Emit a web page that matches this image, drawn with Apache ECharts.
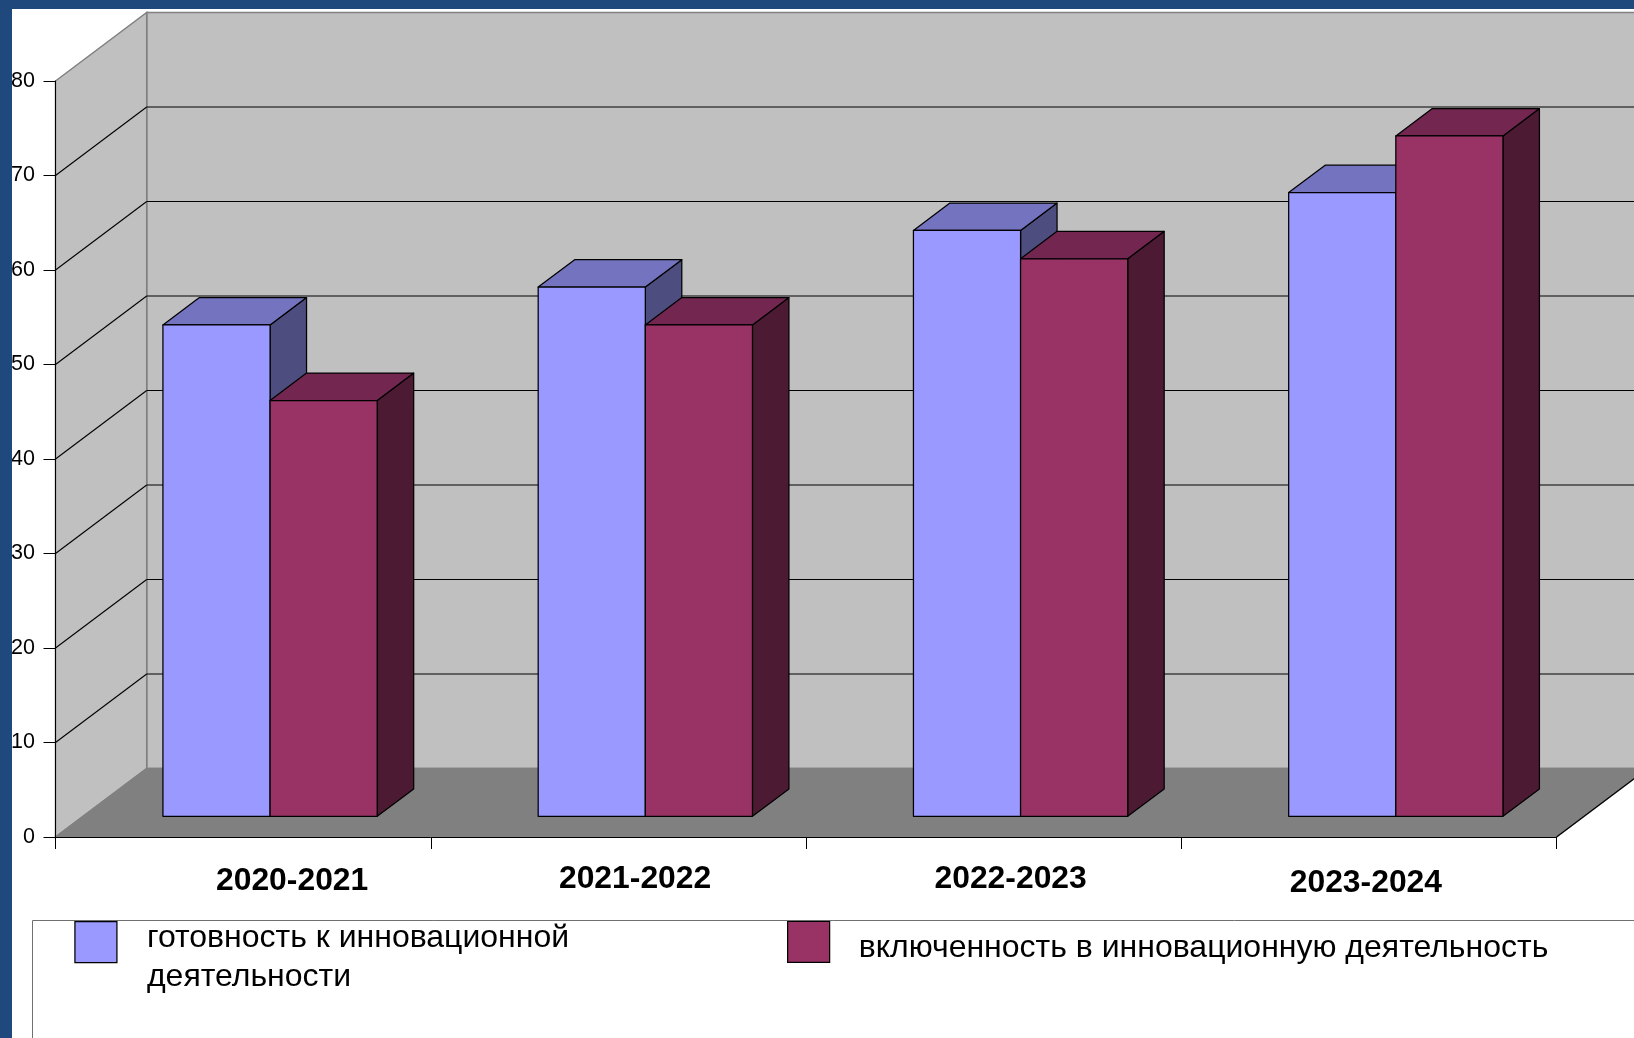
<!DOCTYPE html>
<html>
<head>
<meta charset="utf-8">
<style>html,body{margin:0;padding:0;background:#fff;overflow:hidden}#c{width:1634px;height:1038px}</style>
<script src="https://cdn.jsdelivr.net/npm/echarts@6/dist/echarts.min.js"></script>
</head>
<body>
<div id="c"></div>
<script>
const categories = ['2020-2021', '2021-2022', '2022-2023', '2023-2024'];
const seriesA = [52, 56, 62, 66];
const seriesB = [44, 52, 59, 72];
const nameA = 'готовность к инновационной деятельности';
const nameB = 'включенность в инновационную деятельность';
const yTicks = [0, 10, 20, 30, 40, 50, 60, 70, 80];

const FONT = '"Liberation Sans", Arial, sans-serif';
// style only: hand-placed label offsets of the original [dx, dy]
const labelShift = [[49, 2], [16.7, 0], [17, 0], [-3, 4]];
const DX = 91.2, DY = 68.5;              // depth of the floor in pixels
const barFront = 0.302, barBack = 0.702; // bar depth as a share of floor depth
const barShare = 0.2855;                 // bar width as a share of category width
const barNudge = -0.6;                   // small horizontal correction of the bar groups

const chart = echarts.init(document.getElementById('c'), null, {renderer: 'canvas'});

function frameItem(params, api) {
  const cs = params.coordSys;
  const xL = cs.x, xR = cs.x + cs.width;
  const y = api.coord([0, api.value(1)])[1];
  const children = [];
  const poly = (pts, fill, stroke) => ({type: 'polygon', shape: {points: pts},
    style: {fill: fill, stroke: stroke, lineWidth: 1.5}});
  const line = (x1, y1, x2, y2, c) => ({type: 'line', shape: {x1, y1, x2, y2},
    style: {stroke: c, lineWidth: 1.1, fill: null}});
  if (params.dataIndex === 0) {
    const y0 = y, yT = api.coord([0, yTicks[yTicks.length - 1]])[1];
    children.push(poly([[xL + DX, yT - DY], [xR + DX, yT - DY], [xR + DX, y0 - DY], [xL + DX, y0 - DY]], '#c0c0c0', '#808080'));
    children.push(poly([[xL, yT], [xL + DX, yT - DY], [xL + DX, y0 - DY], [xL, y0]], '#c0c0c0', '#808080'));
    children.push(poly([[xL, y0], [xR, y0], [xR + DX, y0 - DY], [xL + DX, y0 - DY]], '#808080', '#808080'));
    children.push(line(xR, y0, xR + DX, y0 - DY, '#000'));
  } else if (params.dataIndex < yTicks.length - 1) {
    children.push(line(xL, y, xL + DX, y - DY, '#000'));
    children.push(line(xL + DX, y - DY, xR + DX, y - DY, '#000'));
  }
  return {type: 'group', children};
}

function barItem(slot, front, top, side) {
  return function (params, api) {
    const base = api.coord([api.value(0), 0]);
    const tip = api.coord([api.value(0), api.value(1)]);
    const w = api.size([1, 0])[0] * barShare;
    const x0 = base[0] + barNudge + slot * w, x1 = x0 + w;
    const yB = base[1], yT = tip[1];
    const P = (x, y, d) => [x + d * DX, y - d * DY];
    const poly = (pts, fill) => ({type: 'polygon', shape: {points: pts},
      style: {fill: fill, stroke: '#000', lineWidth: 1.25, lineJoin: 'round'}});
    return {type: 'group', children: [
      poly([P(x1, yB, barFront), P(x1, yB, barBack), P(x1, yT, barBack), P(x1, yT, barFront)], side),
      poly([P(x0, yT, barFront), P(x1, yT, barFront), P(x1, yT, barBack), P(x0, yT, barBack)], top),
      poly([P(x0, yB, barFront), P(x1, yB, barFront), P(x1, yT, barFront), P(x0, yT, barFront)], front)
    ]};
  };
}

const toRows = vals => vals.map((v, i) => [i, v]);

chart.setOption({
  backgroundColor: '#ffffff',
  animation: false,
  grid: {left: 55.5, right: 77.5, top: 81, bottom: 201, containLabel: false},
  xAxis: {
    type: 'category',
    z: 5,
    data: categories.map((c, i) => {
      const s = labelShift[i];
      const pad = [s[1], s[0] < 0 ? -2 * s[0] : 0, 0, s[0] > 0 ? 2 * s[0] : 0];
      return {value: c, textStyle: {padding: pad}};
    }),
    axisLine: {show: true, lineStyle: {color: '#000', width: 1}},
    axisTick: {show: true, length: 12, alignWithLabel: false, lineStyle: {color: '#000', width: 1}},
    axisLabel: {interval: 0, margin: 26, color: '#000', fontFamily: FONT, fontSize: 31.85, fontWeight: 'bold', hideOverlap: false},
    splitLine: {show: false}
  },
  yAxis: {
    type: 'value', min: 0, max: 80, interval: 10,
    z: 5,
    axisLine: {show: true, lineStyle: {color: '#000', width: 1}},
    axisTick: {show: true, length: 12, lineStyle: {color: '#000', width: 1}},
    axisLabel: {margin: 20.5, color: '#000', fontFamily: FONT, fontSize: 21.5, padding: [1, 0, 0, 0]},
    splitLine: {show: false}
  },
  legend: [
    {
      data: [nameA], left: 74.3, top: 902.9, padding: 0, itemWidth: 42, itemHeight: 41,
      icon: 'rect', selectedMode: false,
      itemStyle: {borderColor: '#000', borderWidth: 1.25},
      formatter: n => '{s| }\n{a|' + n.replace('инновационной ', 'инновационной}\n{a|') + '}',
      textStyle: {fontFamily: FONT, fontSize: 32, color: '#000', padding: [0, 0, 0, 25],
        rich: {s: {lineHeight: 31, fontSize: 1}, a: {fontFamily: FONT, fontSize: 32, lineHeight: 38.6, color: '#000'}}}
    },
    {
      data: [nameB], left: 787, top: 920.75, padding: 0, itemWidth: 42, itemHeight: 41,
      icon: 'rect', selectedMode: false,
      itemStyle: {borderColor: '#000', borderWidth: 1.25},
      formatter: n => '{s| }\n{a|' + n + '}',
      textStyle: {fontFamily: FONT, fontSize: 32, color: '#000', padding: [0, 0, 0, 24],
        rich: {s: {lineHeight: 12.5, fontSize: 1}, a: {fontFamily: FONT, fontSize: 32, lineHeight: 38, color: '#000'}}}
    }
  ],
  graphic: [
    {type: 'rect', z: 10, silent: true, shape: {x: 32.5, y: 920.5, width: 1700, height: 200},
      style: {fill: 'transparent', stroke: '#707070', lineWidth: 1}},
    {type: 'rect', z: 100, silent: true, shape: {x: 0, y: 0, width: 1634, height: 9}, style: {fill: '#1f497d'}},
    {type: 'rect', z: 100, silent: true, shape: {x: 0, y: 0, width: 12, height: 1038}, style: {fill: '#1f497d'}}
  ],
  series: [
    {type: 'custom', name: 'frame', z: 1, silent: true, clip: false,
      encode: {x: 0, y: 1}, data: yTicks.map(t => [0, t]), renderItem: frameItem},
    {type: 'custom', name: nameA, z: 2, clip: false, itemStyle: {color: '#9999ff'},
      encode: {x: 0, y: 1}, data: toRows(seriesA),
      renderItem: barItem(-1, '#9999ff', '#7373bf', '#4d4d80')},
    {type: 'custom', name: nameB, z: 3, clip: false, itemStyle: {color: '#993366'},
      encode: {x: 0, y: 1}, data: toRows(seriesB),
      renderItem: barItem(0, '#993366', '#732650', '#4d1a33')}
  ]
});
</script>
</body>
</html>
